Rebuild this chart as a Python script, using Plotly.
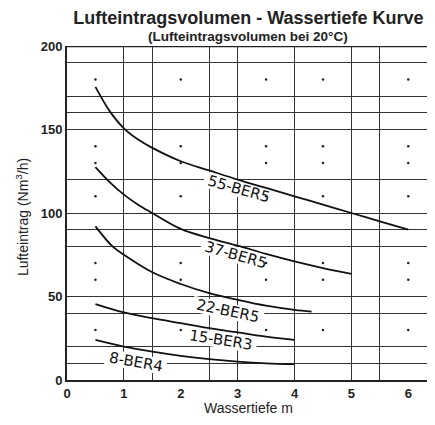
import math
import plotly.graph_objects as go

# curves: Wassertiefe (m) vs Lufteintrag (Nm3/h)
x_55 = [0.5, 0.75, 1.0, 1.25, 1.5, 2.0, 2.5, 3.0, 3.5, 4.0, 4.5, 5.0, 5.5, 6.0]
y_55 = [175.5, 161, 150.7, 144, 139, 131, 125.5, 120, 115, 110, 105, 100, 95, 90]

x_37 = [0.5, 0.75, 1.0, 1.25, 1.5, 2.0, 2.5, 3.0, 3.5, 4.0, 4.5, 5.0]
y_37 = [127.5, 118.5, 111, 105, 100, 90.5, 85, 80.5, 75.5, 71, 67, 63.5]

x_22 = [0.5, 0.8, 1.0, 1.5, 2.0, 2.5, 3.0, 3.5, 4.0, 4.3]
y_22 = [92, 80, 75, 64.5, 57.5, 52, 48, 44.5, 42, 41]

x_15 = [0.5, 1.0, 1.5, 2.0, 2.5, 3.0, 3.5, 4.0]
y_15 = [45.5, 40.5, 37, 34, 31, 28.5, 26, 24]

x_8 = [0.5, 1.0, 1.5, 2.0, 2.5, 3.0, 3.5, 4.0]
y_8 = [24, 20, 17, 14.5, 12.5, 11, 10, 9.5]

curve_names = ["55-BER5", "37-BER5", "22-BER5", "15-BER3", "8-BER4"]
label_x = [3.02, 2.97, 2.83, 2.71, 1.21]
label_y = [114.4, 74.9, 41.3, 23.9, 10.8]
label_angle = [16, 16, 12, 9, 10]

x_ticks = [0, 1, 2, 3, 4, 5, 6]
y_ticks = [0, 50, 100, 150, 200]
x_grid = [1, 1.5, 2.5, 3, 4, 5, 5.5]
y_grid = [10, 20, 40, 50, 80, 90, 100, 120, 150, 160, 170, 190]
dot_x = [0.5, 2, 3.5, 4.5, 6]
dot_y = [180, 140, 130, 110, 70, 60, 30]

X_MAX = 6.47
Y_MAX = 200
W, H = 427, 417          # page adds an 8px body margin
ML, MR, MT, MB = 59, 0, 38, 45
sx = (W - ML - MR) / X_MAX   # px per metre
sy = (H - MT - MB) / Y_MAX   # px per Nm3/h

fig = go.Figure()

# dotted helper points of the scanned grid
fig.add_trace(go.Scatter(
    x=[dx for dx in dot_x for dy in dot_y],
    y=[dy for dx in dot_x for dy in dot_y],
    mode="markers",
    marker=dict(size=2.5, color="#222"),
    hoverinfo="skip",
    showlegend=False,
))

curves = [(x_55, y_55), (x_37, y_37), (x_22, y_22), (x_15, y_15), (x_8, y_8)]
for name, (cx, cy) in zip(curve_names, curves):
    fig.add_trace(go.Scatter(
        x=cx, y=cy,
        mode="lines",
        line=dict(color="#111", width=1.8, shape="spline", smoothing=1),
        name=name,
        showlegend=False,
    ))


def label_mask(cx, cy, hw, hh, ang):
    # white rotated box under a label, cutting the grid but not the curves
    a = math.radians(ang)
    pts = []
    for dx, dy in [(-hw, -hh), (hw, -hh), (hw, hh), (-hw, hh)]:
        rx = dx * math.cos(a) - dy * math.sin(a)
        ry = dx * math.sin(a) + dy * math.cos(a)
        pts.append((cx + rx / sx, cy - ry / sy))
    return "M " + " L ".join(f"{px:.4f},{py:.4f}" for px, py in pts) + " Z"


for name, lx, ly, ang in zip(curve_names, label_x, label_y, label_angle):
    hw = 5 * len(name) + 1
    fig.add_shape(
        type="path", path=label_mask(lx, ly, hw, 8, ang),
        xref="x", yref="y", fillcolor="white", line=dict(width=0),
        layer="between",
    )
    fig.add_annotation(
        x=lx, y=ly, text=name, showarrow=False, textangle=ang,
        font=dict(family="DejaVu Sans", size=15, color="#111"),
    )

fig.add_annotation(
    text="<b>(Lufteintragsvolumen bei 20°C)</b>", xref="paper", yref="paper",
    x=0.492, y=1.0, yanchor="bottom", yshift=0, showarrow=False,
    font=dict(size=13.5, color="#222"),
)
fig.add_annotation(
    text="Wassertiefe m", xref="paper", yref="paper",
    x=0.492, y=-0.083, yanchor="middle", showarrow=False,
    font=dict(size=14, color="#222"),
)
fig.add_annotation(
    text="Lufteintrag (Nm<sup>3</sup>/h)", xref="paper", yref="paper",
    x=-0.122, y=0.488, xanchor="center", yanchor="middle", textangle=-90,
    showarrow=False, font=dict(size=14, color="#222"),
)

fig.update_layout(
    width=W, height=H,
    margin=dict(l=ML, r=MR, t=MT, b=MB, autoexpand=False),
    paper_bgcolor="white", plot_bgcolor="white",
    font=dict(family="Liberation Sans, Arial", color="#222"),
    title=dict(
        text="<b>Lufteintragsvolumen - Wassertiefe Kurve</b>",
        x=0.563, xanchor="center", y=0.993, yanchor="top",
        font=dict(size=18, color="#222"),
    ),
    xaxis=dict(
        range=[0, X_MAX], tickvals=x_ticks, showgrid=False, zeroline=False,
        showline=True, linecolor="#222", linewidth=2, automargin=False,
        ticks="", tickfont=dict(size=13, color="#222", weight="bold"),
        minor=dict(tickvals=x_grid, showgrid=True, gridcolor="#333", gridwidth=1.4, ticks=""),
    ),
    yaxis=dict(
        range=[0, Y_MAX], tickvals=y_ticks, showgrid=False, zeroline=False,
        showline=True, linecolor="#222", linewidth=2, automargin=False,
        ticks="", tickfont=dict(size=13, color="#222", weight="bold"),
        minor=dict(tickvals=y_grid, showgrid=True, gridcolor="#333", gridwidth=1.4, ticks=""),
    ),
)

# thick top border at 200
fig.add_hline(y=Y_MAX, line=dict(color="#222", width=2.5))

fig.write_html("out.html")
